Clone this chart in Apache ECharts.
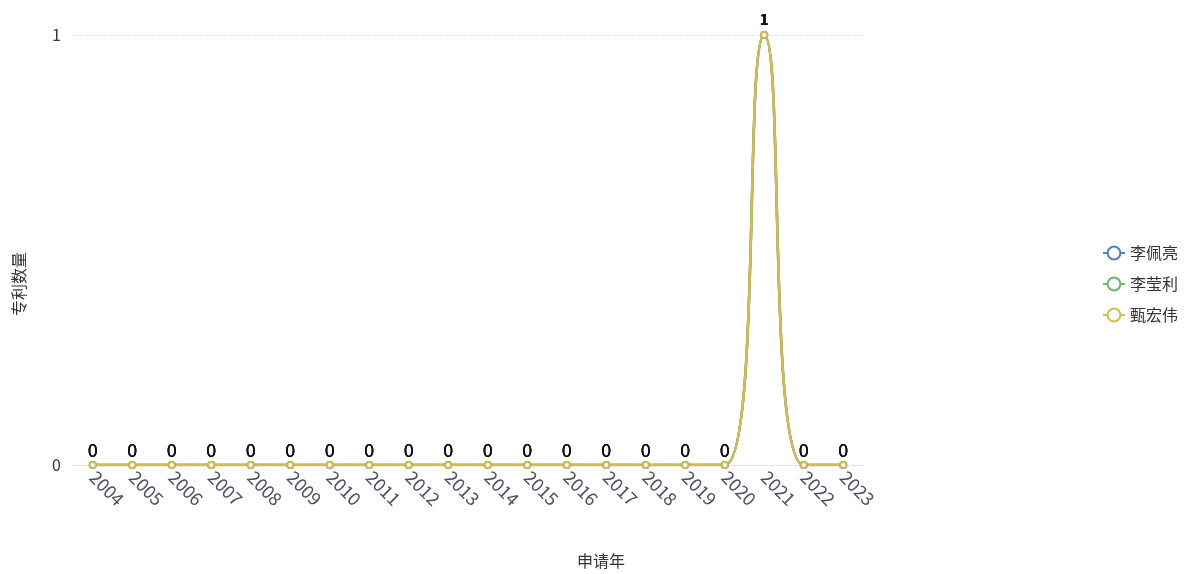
<!DOCTYPE html>
<html>
<head>
<meta charset="utf-8">
<script src="https://cdn.jsdelivr.net/npm/echarts@6/dist/echarts.min.js"></script>
<style>html,body{margin:0;padding:0;background:#fff;}#chart{width:1187px;height:574px;}</style>
</head>
<body>
<div id="chart"></div>
<script>
const years = ['2004','2005','2006','2007','2008','2009','2010','2011','2012','2013','2014','2015','2016','2017','2018','2019','2020','2021','2022','2023'];
const seriesNames = ['李佩亮','李莹利','甄宏伟'];
const valuesLi = [0,0,0,0,0,0,0,0,0,0,0,0,0,0,0,0,0,1,0,0];
const valuesYing = [0,0,0,0,0,0,0,0,0,0,0,0,0,0,0,0,0,1,0,0];
const valuesZhen = [0,0,0,0,0,0,0,0,0,0,0,0,0,0,0,0,0,1,0,0];
const allValues = [valuesLi, valuesYing, valuesZhen];
const colors = ['#4f82c0','#6db56b','#d6bb4a'];
const font = '"Microsoft YaHei","Noto Sans CJK SC",sans-serif';

const chart = echarts.init(document.getElementById('chart'));
chart.setOption({
  color: colors,
  textStyle: {fontFamily: font},
  legend: {
    orient: 'vertical', right: 4, top: 240,
    itemGap: 15, itemWidth: 22, itemHeight: 16,
    textStyle: {fontSize: 16, color: '#333'},
    data: seriesNames
  },
  grid: {left: 73, right: 324, top: 35, bottom: 107, containLabel: false},
  xAxis: {
    type: 'category', data: years, boundaryGap: true,
    name: '申请年', nameLocation: 'middle', nameGap: 88,
    nameTextStyle: {fontSize: 16, color: '#333', padding: [0, 0, 0, 266]},
    axisLine: {lineStyle: {color: '#e0e6f1'}},
    axisTick: {show: false},
    axisLabel: {rotate: -45, fontSize: 18, color: '#4a4f63', interval: 0, margin: 9}
  },
  yAxis: {
    type: 'value', min: 0, max: 1, interval: 1,
    name: '专利数量', nameLocation: 'middle', nameGap: 46,
    nameTextStyle: {fontSize: 16, color: '#333', padding: [0, 68, 0, 0]},
    axisLine: {show: false}, axisTick: {show: false},
    axisLabel: {fontSize: 16, color: '#333', margin: 12},
    splitLine: {lineStyle: {type: 'dashed', color: '#e6e6e6'}}
  },
  series: seriesNames.map((n, i) => ({
    name: n, type: 'line', smooth: true,
    symbol: 'emptyCircle', symbolSize: 6,
    lineStyle: {width: 2.5},
    label: {show: true, position: 'top', fontSize: 18, color: '#111', distance: 2},
    data: allValues[i].map(v => v > 0 ? {value: v, label: {fontWeight: 'bold', fontSize: 15, distance: 4}} : v)
  }))
});
</script>
</body>
</html>
